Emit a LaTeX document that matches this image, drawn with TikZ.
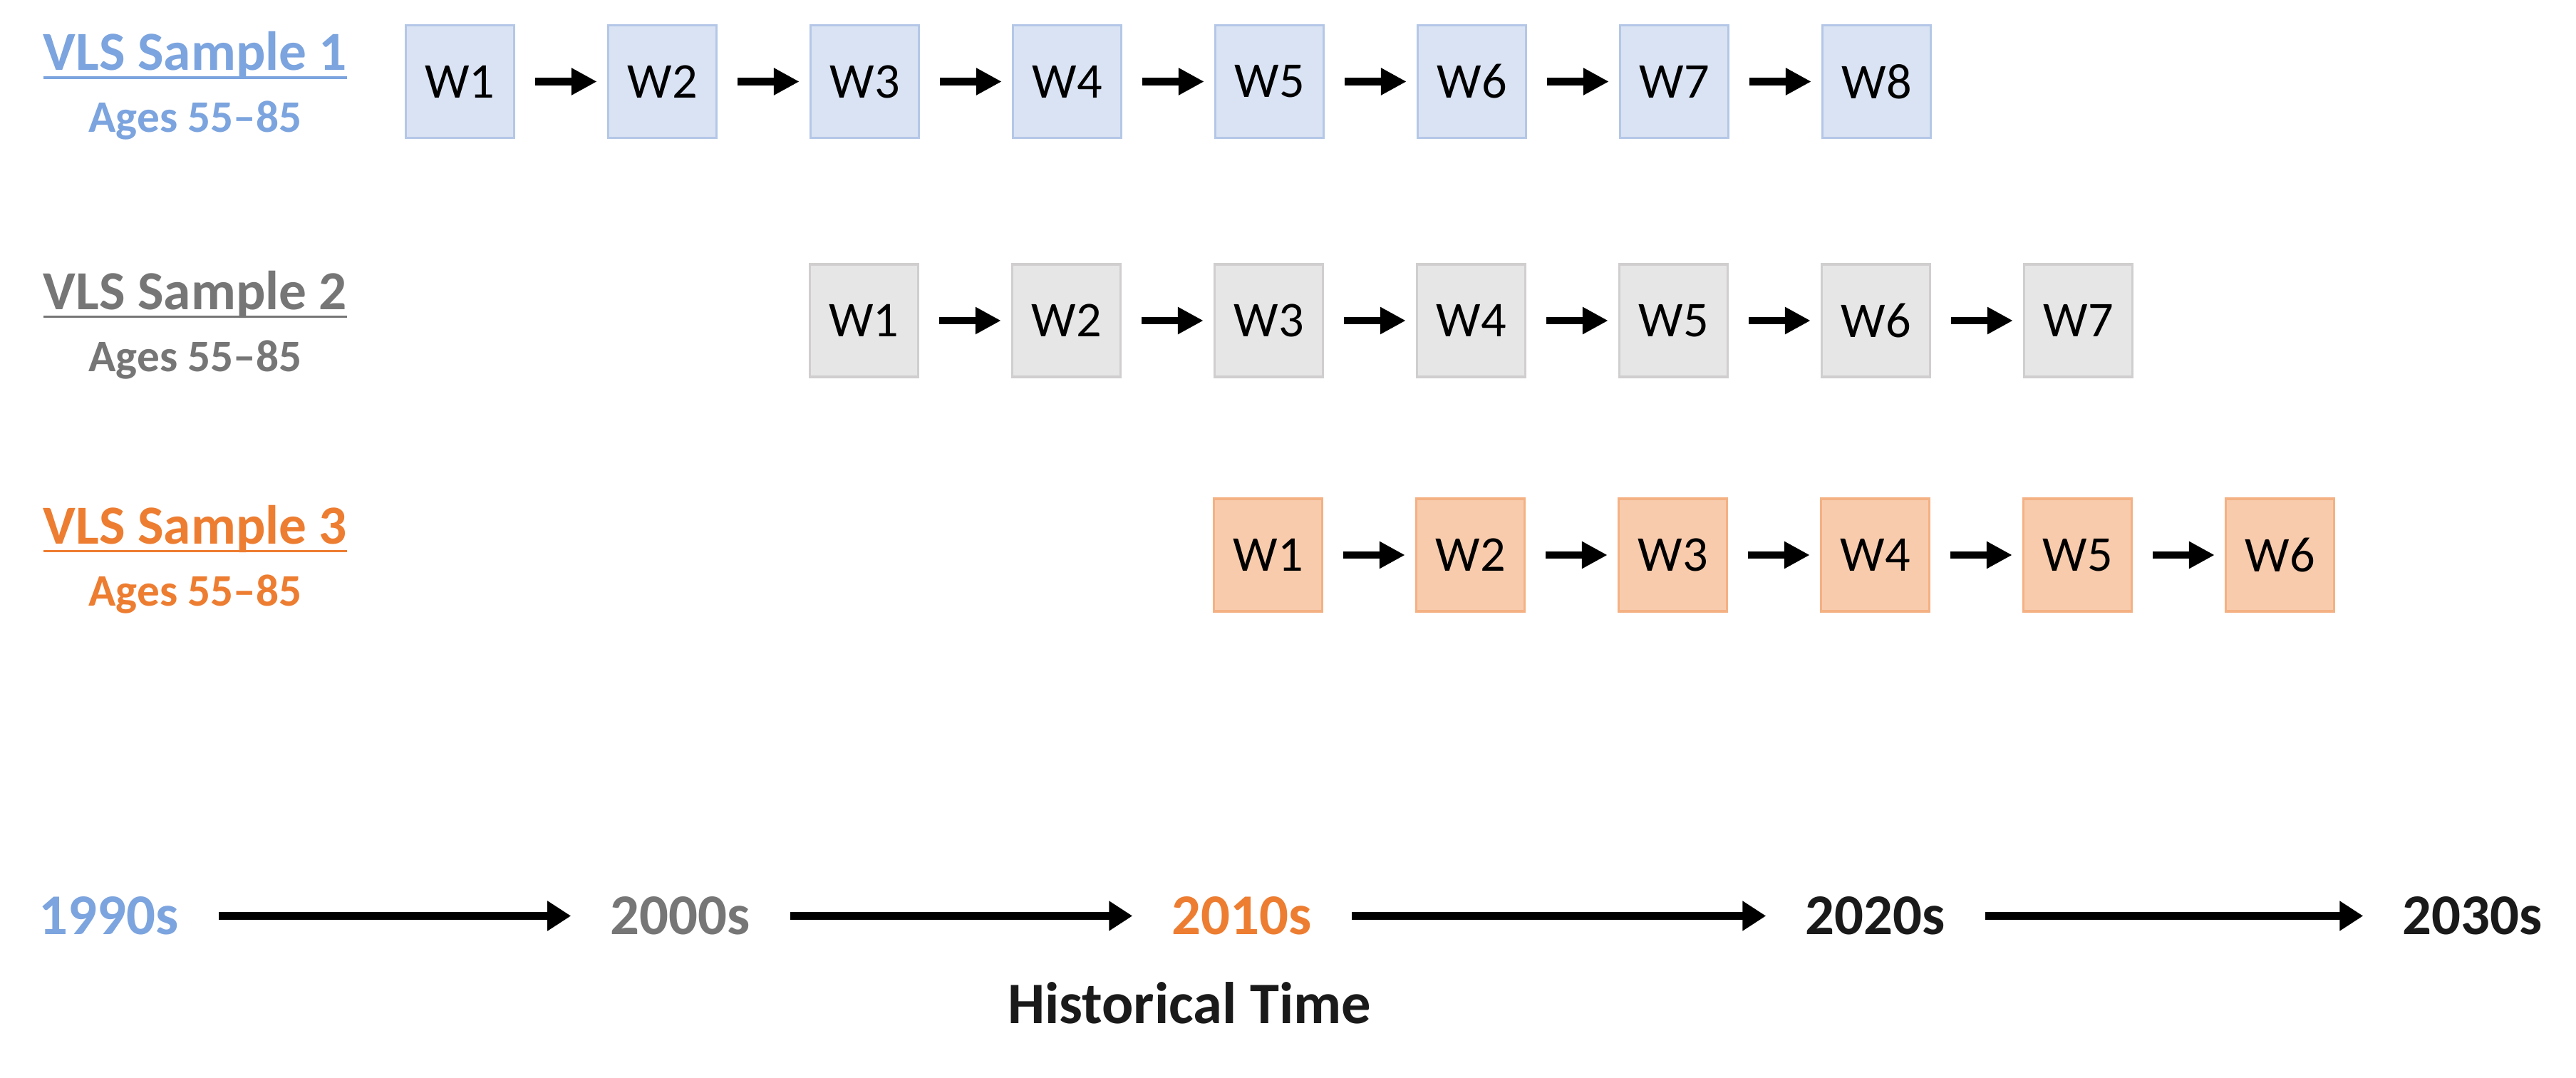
\documentclass[tikz,border=0pt]{standalone}
\usepackage{fontspec}
\setmainfont{Carlito}
\usetikzlibrary{positioning, arrows.meta}

\definecolor{vlsblue}{HTML}{7CA4DE}
\definecolor{vlsgray}{HTML}{767676}
\definecolor{vlsorange}{HTML}{ED7D31}
\definecolor{nearblack}{HTML}{1A1A1A}
\definecolor{bluefill}{HTML}{DAE3F3}
\definecolor{blueline}{HTML}{B4C7E7}
\definecolor{grayfill}{HTML}{E6E6E6}
\definecolor{grayline}{HTML}{D0CECE}
\definecolor{orangefill}{HTML}{F8CBAD}
\definecolor{orangeline}{HTML}{F4B183}

% underline a bit heavier than \underline
\newcommand{\sampleline}[1]{\setbox0\hbox{#1}\rlap{\rule[-3.4pt]{\wd0}{1.1pt}}\box0}

\begin{document}
\begin{tikzpicture}[
  wave/.style={draw, line width=1pt, minimum width=1.52cm, minimum height=1.58cm,
    inner sep=0pt, font=\fontsize{20}{24}\selectfont},
  wave1/.style={wave, fill=bluefill, draw=blueline},
  wave2/.style={wave, fill=grayfill, draw=grayline},
  wave3/.style={wave, fill=orangefill, draw=orangeline},
  link/.style={line width=3.1pt, -{Triangle[length=0.36cm, width=0.36cm]},
    shorten <=0.28cm, shorten >=0.14cm},
  era/.style={line width=3pt, -{Triangle[length=0.33cm, width=0.4cm]}},
  title/.style={anchor=base, font=\bfseries\fontsize{22}{26}\selectfont},
  ages/.style={anchor=base, font=\bfseries\fontsize{18}{22}\selectfont},
  year/.style={inner xsep=0.55cm, font=\bfseries\fontsize{23}{28}\selectfont},
  node distance=1.285cm
  ]
  \useasboundingbox (0,0) rectangle (36.15,15.12);

  % --- Sample 1 ---
  \node [title, text=vlsblue] (lab1) at (2.74,14.13) {\sampleline{VLS Sample 1}};
  \node [ages, text=vlsblue] (age1) at (2.74,13.26) {Ages 55--85};
  \node [wave1] (s1w1) at (6.455,13.975) {W1};
  \node [wave1, right=of s1w1] (s1w2) {W2};
  \node [wave1, right=of s1w2] (s1w3) {W3};
  \node [wave1, right=of s1w3] (s1w4) {W4};
  \node [wave1, right=of s1w4] (s1w5) {W5};
  \node [wave1, right=of s1w5] (s1w6) {W6};
  \node [wave1, right=of s1w6] (s1w7) {W7};
  \node [wave1, right=of s1w7] (s1w8) {W8};
  \draw [link] (s1w1) -- (s1w2);
  \draw [link] (s1w2) -- (s1w3);
  \draw [link] (s1w3) -- (s1w4);
  \draw [link] (s1w4) -- (s1w5);
  \draw [link] (s1w5) -- (s1w6);
  \draw [link] (s1w6) -- (s1w7);
  \draw [link] (s1w7) -- (s1w8);

  % --- Sample 2 ---
  \node [title, text=vlsgray] (lab2) at (2.74,10.775) {\sampleline{VLS Sample 2}};
  \node [ages, text=vlsgray] (age2) at (2.74,9.905) {Ages 55--85};
  \node [wave2] (s2w1) at (12.125,10.62) {W1};
  \node [wave2, right=of s2w1] (s2w2) {W2};
  \node [wave2, right=of s2w2] (s2w3) {W3};
  \node [wave2, right=of s2w3] (s2w4) {W4};
  \node [wave2, right=of s2w4] (s2w5) {W5};
  \node [wave2, right=of s2w5] (s2w6) {W6};
  \node [wave2, right=of s2w6] (s2w7) {W7};
  \draw [link] (s2w1) -- (s2w2);
  \draw [link] (s2w2) -- (s2w3);
  \draw [link] (s2w3) -- (s2w4);
  \draw [link] (s2w4) -- (s2w5);
  \draw [link] (s2w5) -- (s2w6);
  \draw [link] (s2w6) -- (s2w7);

  % --- Sample 3 ---
  \node [title, text=vlsorange] (lab3) at (2.74,7.485) {\sampleline{VLS Sample 3}};
  \node [ages, text=vlsorange] (age3) at (2.74,6.615) {Ages 55--85};
  \node [wave3] (s3w1) at (17.795,7.33) {W1};
  \node [wave3, right=of s3w1] (s3w2) {W2};
  \node [wave3, right=of s3w2] (s3w3) {W3};
  \node [wave3, right=of s3w3] (s3w4) {W4};
  \node [wave3, right=of s3w4] (s3w5) {W5};
  \node [wave3, right=of s3w5] (s3w6) {W6};
  \draw [link] (s3w1) -- (s3w2);
  \draw [link] (s3w2) -- (s3w3);
  \draw [link] (s3w3) -- (s3w4);
  \draw [link] (s3w4) -- (s3w5);
  \draw [link] (s3w5) -- (s3w6);

  % --- historical time axis ---
  \node [year, text=vlsblue] (y1990) at (1.53,2.265) {1990s};
  \node [year, text=vlsgray] (y2000) at (9.55,2.265) {2000s};
  \node [year, text=vlsorange] (y2010) at (17.43,2.265) {2010s};
  \node [year, text=nearblack] (y2020) at (26.32,2.265) {2020s};
  \node [year, text=nearblack] (y2030) at (34.7,2.265) {2030s};
  \draw [era] (y1990) -- (y2000);
  \draw [era] (y2000) -- (y2010);
  \draw [era] (y2010) -- (y2020);
  \draw [era] (y2020) -- (y2030);
  \node [anchor=base, text=nearblack, font=\bfseries\fontsize{23.5}{28}\selectfont]
    (histtime) at (16.69,0.76) {Historical Time};

\end{tikzpicture}
\end{document}
